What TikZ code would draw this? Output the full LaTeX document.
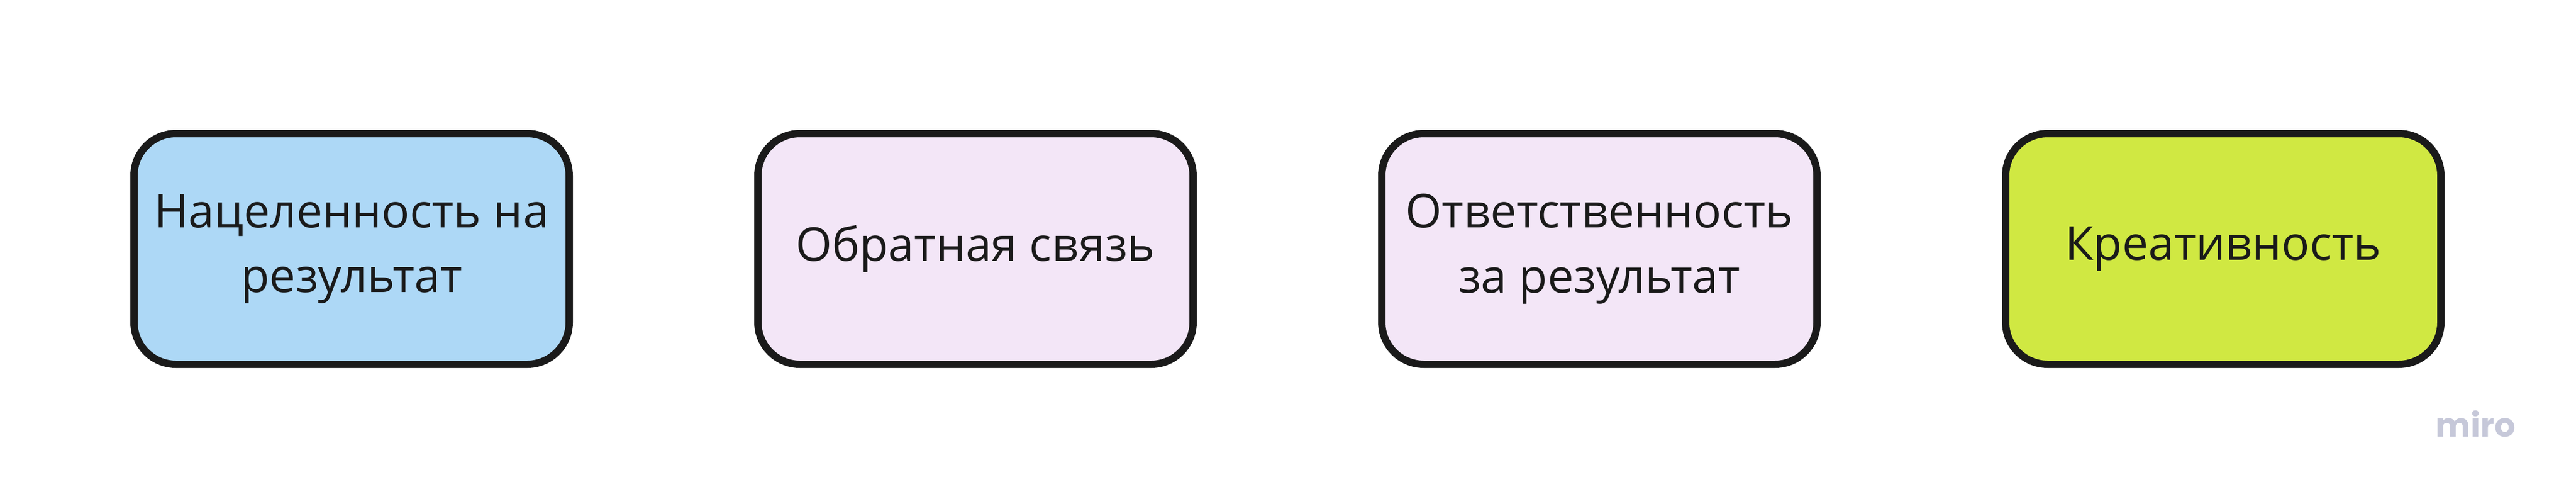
\documentclass[tikz,border=0pt]{standalone}
\usepackage{fontspec}
\setmainfont{Open Sans}
\newfontfamily\logofont{Poppins}
\usetikzlibrary{positioning}
\definecolor{inkgray}{HTML}{1A1A1A}
\definecolor{skyblue}{HTML}{ADD8F6}
\definecolor{lilac}{HTML}{F3E6F7}
\definecolor{lime}{HTML}{D0E842}
\definecolor{logogray}{HTML}{C6C8D9}
\begin{document}
\begin{tikzpicture}[
    valuebox/.style={draw=inkgray, line width=0.13cm, rounded corners=0.74cm,
      minimum width=7.68cm, minimum height=4.07cm, align=center,
      text=inkgray, font=\fontsize{23.4}{32.6}\selectfont},
    node distance=3.2cm]
  \useasboundingbox (0,0) rectangle (45.46,8.79);
  % the four values, left to right:
  \node[valuebox, fill=skyblue] (goal) at (6.205,4.40) {Нацеленность на\\результат};
  \node[valuebox, fill=lilac, right=of goal] (feedback) {Обратная связь};
  \node[valuebox, fill=lilac, right=of feedback] (duty) {Ответственность\\за результат};
  \node[valuebox, fill=lime, right=of duty] (creative) {Креативность};
  % watermark:
  \node[text=logogray, font=\logofont\bfseries\fontsize{16.5}{16.5}\selectfont, anchor=base west, inner sep=0pt] (logo) at (42.98,1.09) {miro};
\end{tikzpicture}
\end{document}
